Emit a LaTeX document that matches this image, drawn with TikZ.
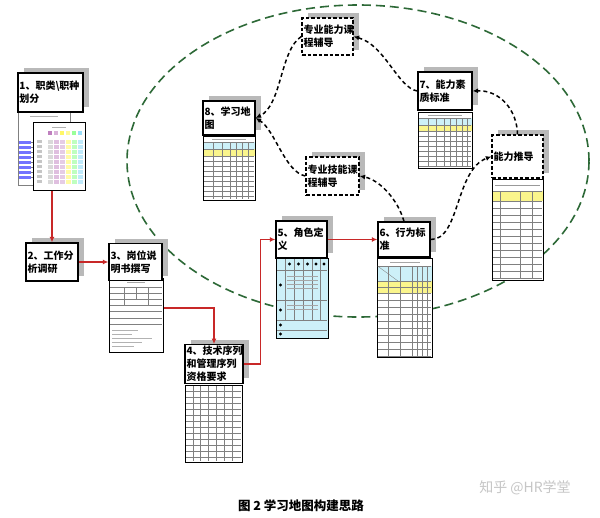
\documentclass[tikz,border=0pt]{standalone}
\usepackage{fontspec}
\newfontfamily\cjk{Noto Sans CJK SC}
\usetikzlibrary{arrows.meta, positioning, shadows}
\definecolor{vertfonce}{RGB}{45,105,55}
\definecolor{rouge}{RGB}{200,40,40}
\definecolor{bleuclair}{RGB}{205,240,248}
\definecolor{jaune}{RGB}{250,245,140}

\tikzset{
  titre/.style={draw, line width=1.3pt, fill=white, align=left, inner sep=1.5pt,
    font=\cjk\bfseries\fontsize{10}{13}\selectfont,
    drop shadow={shadow xshift=6pt, shadow yshift=5pt, fill=gray!55, opacity=1}},
  titrep/.style={titre, dash pattern=on 3.5pt off 2pt},
  page/.style={draw, line width=1pt, fill=white, inner sep=0pt},
  trait/.style={gray, line width=0.35pt},
  fleche/.style={rouge, line width=1.6pt, -{Latex[length=5.5pt, width=5pt]}},
  lien/.style={line width=1.5pt, dash pattern=on 4pt off 3pt, -{Latex[length=5.5pt, width=5pt]}},
}

\begin{document}
\begin{tikzpicture}[x=1pt, y=-1pt]
  \fill[white] (0,0) rectangle (600,517);
  \useasboundingbox (0,0) rectangle (600,517);

  % ellipse
  \draw[vertfonce, line width=1.6pt, dash pattern=on 9pt off 5pt] (358,161) ellipse [x radius=231pt, y radius=156pt];

  % 1 : deux pages
  \node[page, draw=gray, minimum width=52pt, minimum height=73pt] (p1a) at (44,148.5) {};
  \draw[gray!60, line width=.5pt] (30,116) -- (58,116);
  \foreach \ii in {0,...,7} {
    \fill[blue!55] (19,141+5*\ii) rectangle ++(12,3);
    \draw[trait] (31,142.5+5*\ii) -- ++(8,0);
  }
  \node[page, minimum width=52pt, minimum height=68pt] (p1b) at (59,156) {};
  \draw[gray!60, line width=.5pt] (52,127) -- (66,127);
  \foreach \ii/\col in {0/violet!50,1/violet!30,2/yellow!60,3/yellow!40,4/green!40,5/cyan!40}
    \fill[\col] (48+6*\ii,131) rectangle ++(4,4);
  \foreach \jj in {0,...,8} \fill[gray!45] (37,140+5*\jj) rectangle ++(5,3);
  \foreach \ii/\col in {0/gray!30,1/violet!25,2/violet!20,3/yellow!35,4/green!25,5/cyan!25}
    \foreach \jj in {0,...,8} \fill[\col] (48+6*\ii,140+5*\jj) rectangle ++(4.5,3.5);
  \node[titre, text width=62pt, minimum height=39pt] (b1) at (50.5,92.5) {1、职类\textbackslash 职种\\划分};

  % 2
  \node[titre, text width=49pt, minimum height=38pt] (b2) at (52,262) {2、工作分\\析调研};

  % 3 : fiche de poste
  \node[page, minimum width=54pt, minimum height=74pt] (p3) at (136,315) {};
  \draw[gray!70, line width=.5pt] (127,282) -- (145,282);
  \foreach \y in {287,293,299,305,311,318,324} \draw[trait] (110,\y) -- (162,\y);
  \draw[trait] (124,287) -- (124,305) (136,287) -- (136,299) (148,287) -- (148,305);
  \foreach \y/\l in {330/26,334/20,338/40,342/30,346/22} \draw[gray!60, line width=.5pt] (112,\y) -- ++(\l,0);
  \node[titre, text width=50pt, minimum height=37pt] (b3) at (135.5,262) {3、岗位说\\明书撰写};

  % 4 : tableau des exigences
  \node[page, minimum width=57pt, minimum height=77pt] (p4) at (213.5,423.5) {};
  \foreach \y in {391,397,...,457} \draw[trait] (186,\y) -- (241,\y);
  \foreach \x in {193,200,208,216,224,232} \draw[trait] (\x,386) -- (\x,461);
  \node[titre, text width=55pt, minimum height=38pt] (b4) at (214,364) {4、技术序列\\和管理序列\\资格要求};

  % 5 : definition des roles
  \node[page, fill=bleuclair, minimum width=52pt, minimum height=80pt] (p5) at (302,298) {};
  \foreach \y in {270,300,320,330} \draw[trait] (277,\y) -- (327,\y);
  \foreach \x in {285,294,303,312,320} \draw[trait] (\x,259) -- (\x,320);
  \foreach \x in {289.5,298.5,307.5,316,324} \fill (\x,264) circle (1.7);
  \foreach \y in {285,310,325,334} \fill (280.5,\y) circle (1.7);
  \foreach \y in {276,280,284,288,305,309} \draw[gray!70, line width=.4pt] (287,\y) -- (318,\y);
  \node[titre, text width=48pt, minimum height=37pt] (b5) at (301.5,239.5) {5、角色定\\义};

  % 6 : normes de comportement
  \node[page, minimum width=55pt, minimum height=99pt] (p6) at (404.5,307.5) {};
  \draw[gray!70, line width=.5pt] (390,262) -- (420,262);
  \fill[bleuclair] (377.5,266) rectangle (431.5,281);
  \fill[jaune] (377.5,281) rectangle (431.5,293);
  \draw[trait] (377.5,266) -- (398,281);
  \foreach \y in {266,281,287,293,300,307,...,356} \draw[trait] (378,\y) -- (431,\y);
  \foreach \x in {388,400,412,417,422,427} \draw[trait] (\x,266) -- (\x,357);
  \node[titre, text width=49pt, minimum height=35pt] (b6) at (404,239.5) {6、行为标\\准};

  % 7 : referentiel
  \node[page, minimum width=54pt, minimum height=56pt] (p7) at (445,140) {};
  \draw[gray!70, line width=.5pt] (428,115) -- (462,115);
  \fill[bleuclair] (418.5,118) rectangle (471.5,125);
  \fill[jaune] (418.5,125) rectangle (471.5,131);
  \foreach \y in {118,125,131,136,...,166} \draw[trait] (419,\y) -- (471,\y);
  \foreach \x in {428,436,444,450,456,462,467} \draw[trait] (\x,118) -- (\x,167);
  \node[titre, text width=51pt, minimum height=38pt] (b7) at (445,91) {7、能力素\\质标准};

  % 8 : carte
  \node[page, minimum width=52pt, minimum height=64pt] (p8) at (229,168) {};
  \draw[gray!70, line width=.5pt] (212,139) -- (246,139);
  \fill[bleuclair] (203.5,142) rectangle (254.5,149);
  \fill[jaune] (203.5,149) rectangle (254.5,156);
  \foreach \y in {142,149,156,161,...,196} \draw[trait] (204,\y) -- (254,\y);
  \foreach \x in {213,222,230,236,242,248} \draw[trait] (\x,142) -- (\x,199);
  \node[titre, text width=49pt, minimum height=34pt] (b8) at (229,118) {8、学习地\\图};

  % deduction
  \node[page, minimum width=51pt, minimum height=101pt] (p9) at (517.5,229.5) {};
  \draw[gray!80, line width=1pt] (495,185) -- (540,185);
  \fill[jaune] (492.5,191) rectangle (542.5,201);
  \foreach \y in {191,201,208,...,278} \draw[trait] (493,\y) -- (542,\y);
  \foreach \x in {500,520,532} \draw[trait] (\x,191) -- (\x,279);
  \node[titrep, text width=48pt, minimum height=43pt] (tui) at (517.5,156.5) {能力推导};

  % cours
  \node[titrep, text width=50pt, minimum height=38pt] (tj) at (332.5,176) {专业技能课\\程辅导};
  \node[titrep, text width=48pt, minimum height=37pt] (nl) at (327.5,36.5) {专业能力课\\程辅导};

  % fleches rouges
  \draw[fleche] (b2.north |- p1b.south) -- (b2.north);
  \draw[fleche] (b2.east) -- (b3.west);
  \draw[fleche] ([yshift=7pt]p3.east) -| (b4.north);
  \draw[fleche] (b4.east) -- ++(17,0) |- (b5.west);
  \draw[fleche] (b5.east) -- (b6.west);

  % liens
  \draw[lien] (b6.north) .. controls (398,200) and (380,180) .. (tj.east);
  \draw[lien] (tj.west) .. controls (285,172) and (275,130) .. (b8.east);
  \draw[lien] (nl.west) .. controls (280,50) and (282,105) .. (b8.east);
  \draw[lien] (b7.west) .. controls (398,88) and (385,45) .. (nl.east);
  \draw[lien] (tui.north) .. controls (517,110) and (500,90) .. (b7.east);
  \draw[lien] (b6.east) .. controls (460,240) and (455,170) .. (tui.west);

  % legende
  \node[font=\cjk\bfseries\fontsize{12.5}{14}\selectfont] (leg) at (301,506) {图 2 学习地图构建思路};
  \node[font=\cjk\fontsize{14}{16}\selectfont, text=gray!45] (wm) at (525,488) {知乎 @HR学堂};
\end{tikzpicture}
\end{document}
